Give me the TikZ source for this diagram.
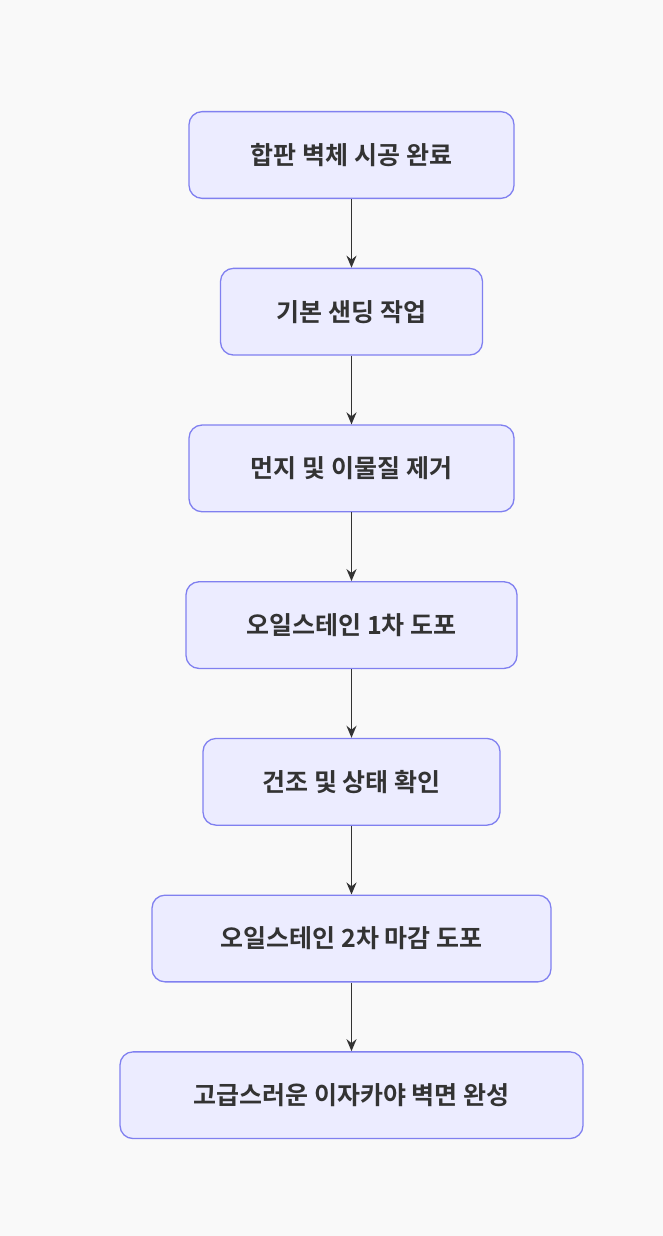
\documentclass[tikz,border=0pt]{standalone}
\usepackage{fontspec}
\newfontfamily\cjk{Noto Sans CJK KR}[BoldFont={* Bold}]
\usetikzlibrary{positioning,arrows.meta}
\definecolor{boxfill}{HTML}{ECECFF}
\definecolor{boxline}{HTML}{8080F0}
\definecolor{arrowc}{HTML}{333333}
\definecolor{bgc}{HTML}{F9F9F9}
\begin{document}
\begin{tikzpicture}[x=1pt,y=1pt,
    procbox/.style={draw=boxline,fill=boxfill,line width=1.3pt,rounded corners=13pt,
      minimum height=86.7pt,font=\cjk\bfseries\fontsize{25}{29}\selectfont,text=arrowc},
    flow/.style={draw=arrowc,line width=1.8pt,-{Stealth[length=12pt,width=10pt]}},
    node distance=68.7pt]
  \fill[bgc] (0,0) rectangle (663,-1236);
  \useasboundingbox (0,0) rectangle (663,-1236);
  \node[procbox,minimum width=325pt] (s1) at (351.5,-155) {합판 벽체 시공 완료};
  \node[procbox,minimum width=262pt,below=of s1] (s2) {기본 샌딩 작업};
  \node[procbox,minimum width=325pt,below=of s2] (s3) {먼지 및 이물질 제거};
  \node[procbox,minimum width=331pt,below=of s3] (s4) {오일스테인 1차 도포};
  \node[procbox,minimum width=297pt,below=of s4] (s5) {건조 및 상태 확인};
  \node[procbox,minimum width=399pt,below=of s5] (s6) {오일스테인 2차 마감 도포};
  \node[procbox,minimum width=463pt,below=of s6] (s7) {고급스러운 이자카야 벽면 완성};
  \foreach \a/\b in {s1/s2,s2/s3,s3/s4,s4/s5,s5/s6,s6/s7}
    \draw[flow] (\a) -- (\b);
\end{tikzpicture}
\end{document}
